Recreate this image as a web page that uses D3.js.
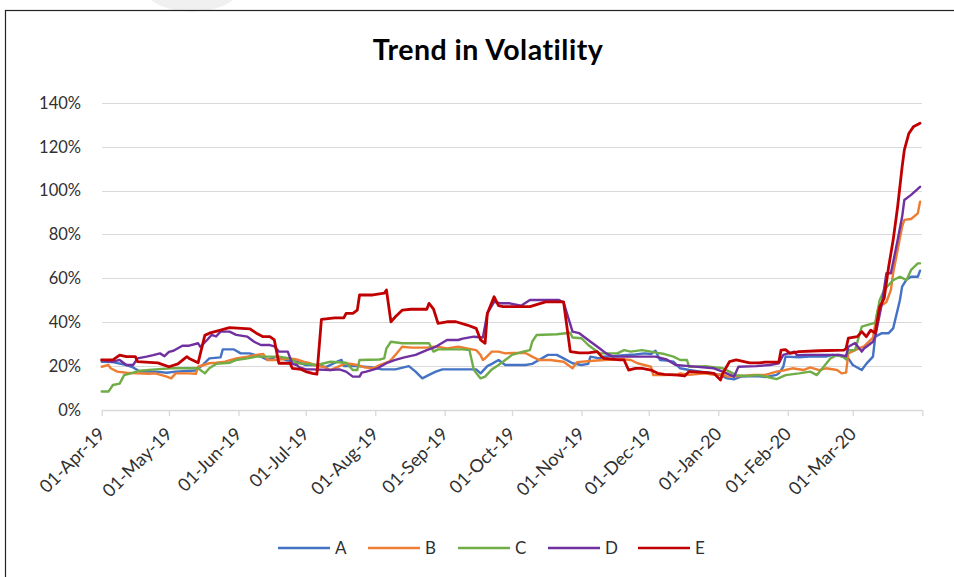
<!DOCTYPE html>
<meta charset="utf-8">
<head>
<title>Trend in Volatility</title>
<style>
body { margin: 0; background: #fff; }
svg { font-family: Lato, "Open Sans", sans-serif; }
.grid line { stroke: #d9d9d9; stroke-width: 1; shape-rendering: crispEdges; }
.xaxis path, .xaxis line { stroke: #d9d9d9; stroke-width: 1.3; }
.tick-label { fill: #303030; }
.series { fill: none; stroke-linejoin: round; stroke-linecap: round; }
</style>
</head>
<body>
<script src="https://cdnjs.cloudflare.com/ajax/libs/d3/7.8.5/d3.min.js"></script>
<script>

// Volatility, in percent
var A = [["2019-04-01",22],["2019-04-06",21.8],["2019-04-12",20.5],["2019-04-15",19.4],["2019-04-18",17.5],["2019-04-25",17.5],["2019-04-30",17],["2019-05-04",17.5],["2019-05-13",18],["2019-05-16",20.5],["2019-05-19",23.5],["2019-05-24",24],["2019-05-25",27.6],["2019-05-30",27.6],["2019-06-02",25.8],["2019-06-06",25.8],["2019-06-11",24.3],["2019-06-14",22.8],["2019-06-18",24.3],["2019-06-22",22.8],["2019-06-27",22],["2019-07-01",20.5],["2019-07-06",20.5],["2019-07-10",19.5],["2019-07-15",22],["2019-07-17",22.8],["2019-07-18",20],["2019-07-24",20],["2019-07-30",19.5],["2019-08-04",18.5],["2019-08-10",18.5],["2019-08-16",20],["2019-08-19",17.5],["2019-08-22",14.4],["2019-08-25",16],["2019-08-28",17.5],["2019-08-31",18.5],["2019-09-15",18.5],["2019-09-17",16.7],["2019-09-20",20],["2019-09-22",21],["2019-09-25",22.8],["2019-09-28",20.5],["2019-10-07",20.5],["2019-10-10",21],["2019-10-13",22.8],["2019-10-17",25.1],["2019-10-21",25.1],["2019-10-24",23.5],["2019-10-28",21.3],["2019-11-01",20.5],["2019-11-04",21],["2019-11-05",24.3],["2019-11-09",23.5],["2019-11-11",24.3],["2019-11-14",24.5],["2019-11-20",25],["2019-11-25",25.3],["2019-11-29",25.8],["2019-12-02",25.5],["2019-12-04",27],["2019-12-06",22.8],["2019-12-09",22.5],["2019-12-12",22],["2019-12-15",19],["2019-12-19",18.2],["2019-12-24",17.5],["2019-12-28",17],["2020-01-02",15.9],["2020-01-05",14.4],["2020-01-08",14],["2020-01-11",15.2],["2020-01-18",15.5],["2020-01-22",15],["2020-01-27",16],["2020-01-28",16.7],["2020-01-30",19.7],["2020-01-31",24.3],["2020-02-06",24],["2020-02-12",24.5],["2020-02-18",24.3],["2020-02-21",25.1],["2020-02-26",24.3],["2020-02-28",23.5],["2020-03-01",20.5],["2020-03-05",18.2],["2020-03-07",21],["2020-03-10",24.3],["2020-03-11",33.4],["2020-03-14",35],["2020-03-17",35],["2020-03-19",37.2],["2020-03-22",50],["2020-03-23",56.2],["2020-03-25",59.5],["2020-03-27",60.7],["2020-03-30",60.7],["2020-03-31",63.5]];

var B = [["2019-04-01",19.7],["2019-04-04",20.5],["2019-04-05",19],["2019-04-08",17.5],["2019-04-12",17],["2019-04-17",16.7],["2019-04-22",16.5],["2019-04-25",16.7],["2019-04-30",15.2],["2019-05-02",14.4],["2019-05-04",16.7],["2019-05-10",16.7],["2019-05-13",16.5],["2019-05-14",19.7],["2019-05-19",21.3],["2019-05-22",21.5],["2019-05-26",22],["2019-05-31",23.5],["2019-06-05",24.3],["2019-06-09",25.1],["2019-06-12",25.5],["2019-06-14",22.8],["2019-06-18",22.8],["2019-06-24",23.5],["2019-06-27",23],["2019-06-30",22],["2019-07-03",21.3],["2019-07-06",20],["2019-07-09",19.7],["2019-07-12",18.2],["2019-07-16",20],["2019-07-19",21.3],["2019-07-24",20.5],["2019-07-27",19.5],["2019-07-31",19],["2019-08-03",20.5],["2019-08-07",22],["2019-08-08",22.8],["2019-08-10",25.1],["2019-08-13",28.8],["2019-08-17",28.4],["2019-08-24",28.4],["2019-08-28",29],["2019-09-02",28],["2019-09-07",28.8],["2019-09-11",28],["2019-09-15",27.3],["2019-09-17",25],["2019-09-18",22.8],["2019-09-19",23.5],["2019-09-22",26.6],["2019-09-25",26.6],["2019-09-28",25.8],["2019-10-01",26],["2019-10-07",26],["2019-10-10",24.3],["2019-10-13",22.8],["2019-10-18",22.8],["2019-10-24",22],["2019-10-28",19],["2019-10-30",21.8],["2019-11-05",22.3],["2019-11-11",22.8],["2019-11-19",23.1],["2019-11-23",22.8],["2019-11-26",21.3],["2019-11-29",20.5],["2019-12-02",19.7],["2019-12-03",15.9],["2019-12-08",15.9],["2019-12-14",16.2],["2019-12-15",16.7],["2019-12-19",16],["2019-12-26",16.7],["2019-12-30",16],["2020-01-03",16.3],["2020-01-05",15.2],["2020-01-11",15.5],["2020-01-17",16],["2020-01-22",16],["2020-01-27",17.5],["2020-01-30",18],["2020-02-03",19],["2020-02-08",18.2],["2020-02-11",19.4],["2020-02-15",18.2],["2020-02-18",19],["2020-02-23",18.2],["2020-02-25",16.7],["2020-02-27",17],["2020-02-28",25.8],["2020-03-02",27.3],["2020-03-06",29],["2020-03-10",33],["2020-03-12",45],["2020-03-13",47],["2020-03-16",49.2],["2020-03-18",54.7],["2020-03-19",62.3],["2020-03-23",83.5],["2020-03-24",86.6],["2020-03-27",87],["2020-03-30",89.6],["2020-03-31",94.9]];

var C = [["2019-04-01",8.4],["2019-04-04",8.4],["2019-04-06",11.4],["2019-04-09",12],["2019-04-11",15.9],["2019-04-14",16.7],["2019-04-18",17.9],["2019-04-25",18.5],["2019-05-02",19],["2019-05-14",19],["2019-05-17",16.7],["2019-05-19",19],["2019-05-22",21],["2019-05-28",21.5],["2019-05-31",22.8],["2019-06-05",23.5],["2019-06-09",24.3],["2019-06-19",24.3],["2019-06-24",23.5],["2019-06-27",21.3],["2019-07-01",21],["2019-07-06",20.5],["2019-07-12",22],["2019-07-19",21.5],["2019-07-22",18.2],["2019-07-24",18.2],["2019-07-25",22.8],["2019-08-03",23],["2019-08-05",23.5],["2019-08-06",28.1],["2019-08-08",31.1],["2019-08-13",30.4],["2019-08-25",30.4],["2019-08-27",26.6],["2019-08-29",27.6],["2019-09-09",27.6],["2019-09-12",27.3],["2019-09-14",18.2],["2019-09-17",14.4],["2019-09-19",15.2],["2019-09-22",18.5],["2019-09-25",20.5],["2019-09-28",22.8],["2019-10-01",25.1],["2019-10-06",26.6],["2019-10-09",27.3],["2019-10-10",31.1],["2019-10-12",34.2],["2019-10-21",34.5],["2019-10-27",35.2],["2019-10-28",33],["2019-11-01",32.7],["2019-11-04",29.6],["2019-11-07",27.3],["2019-11-09",25.8],["2019-11-17",25.8],["2019-11-20",27.3],["2019-11-23",26.6],["2019-11-28",27.3],["2019-12-02",26.6],["2019-12-05",26],["2019-12-08",25.5],["2019-12-12",24.3],["2019-12-15",22.8],["2019-12-18",22.8],["2019-12-19",19.7],["2019-12-27",19.9],["2020-01-03",19],["2020-01-06",17.5],["2020-01-09",15.9],["2020-01-13",15.5],["2020-01-19",15.9],["2020-01-24",14.8],["2020-01-27",14.1],["2020-01-31",15.9],["2020-02-06",16.7],["2020-02-11",17.5],["2020-02-14",15.9],["2020-02-17",19.7],["2020-02-20",23.5],["2020-02-23",25.1],["2020-02-26",24],["2020-02-27",23],["2020-02-28",27.3],["2020-03-02",27.3],["2020-03-05",38],["2020-03-10",39.5],["2020-03-11",39.5],["2020-03-13",50.1],["2020-03-15",54.7],["2020-03-19",59.2],["2020-03-22",60.7],["2020-03-25",59.2],["2020-03-27",63.8],["2020-03-30",66.8],["2020-03-31",66.8]];

var D = [["2019-04-01",22.8],["2019-04-06",22],["2019-04-09",22.8],["2019-04-12",20.5],["2019-04-15",20.5],["2019-04-17",23.5],["2019-04-21",24.3],["2019-04-24",25],["2019-04-27",25.8],["2019-04-29",24.5],["2019-05-01",26.5],["2019-05-03",27],["2019-05-07",29.3],["2019-05-10",29.3],["2019-05-14",30.4],["2019-05-15",28.8],["2019-05-18",31.9],["2019-05-20",34.2],["2019-05-22",33.5],["2019-05-24",35.7],["2019-05-28",35.7],["2019-05-31",34.2],["2019-06-05",33.4],["2019-06-08",31.1],["2019-06-11",29.6],["2019-06-15",29.6],["2019-06-17",29],["2019-06-19",26.6],["2019-06-23",26.6],["2019-06-25",21],["2019-06-27",20.5],["2019-06-28",19.5],["2019-07-01",18.5],["2019-07-04",18.5],["2019-07-12",18.2],["2019-07-16",18.5],["2019-07-19",17.5],["2019-07-22",15.2],["2019-07-25",15.2],["2019-07-26",17],["2019-07-28",17.5],["2019-08-02",19],["2019-08-06",21.3],["2019-08-10",22.8],["2019-08-14",24],["2019-08-19",25.1],["2019-08-24",27.3],["2019-08-28",28.8],["2019-09-02",31.9],["2019-09-07",31.9],["2019-09-09",32.5],["2019-09-14",33.4],["2019-09-18",33],["2019-09-20",44],["2019-09-23",49.3],["2019-09-26",48.6],["2019-09-30",48.6],["2019-10-05",47.5],["2019-10-09",50.1],["2019-10-22",50.1],["2019-10-24",49],["2019-10-28",35.7],["2019-10-31",35],["2019-11-04",31.9],["2019-11-09",28.1],["2019-11-12",25.8],["2019-11-15",24.3],["2019-11-27",24.3],["2019-12-04",24.3],["2019-12-09",23],["2019-12-13",20.5],["2019-12-19",20],["2019-12-30",19],["2020-01-03",17.5],["2020-01-08",15.2],["2020-01-10",19.7],["2020-01-18",20],["2020-01-24",20.5],["2020-01-28",21.3],["2020-01-30",25.1],["2020-02-04",26.6],["2020-02-05",25],["2020-02-09",25.1],["2020-02-24",25.1],["2020-02-27",24.5],["2020-02-28",28.8],["2020-03-02",30.5],["2020-03-05",26.6],["2020-03-06",28],["2020-03-10",31.1],["2020-03-11",33.4],["2020-03-14",48.6],["2020-03-16",62.3],["2020-03-18",62.3],["2020-03-21",77.4],["2020-03-23",88],["2020-03-24",95.7],["2020-03-27",98],["2020-03-31",101.7]];

var E = [["2019-04-01",22.8],["2019-04-06",22.8],["2019-04-09",25],["2019-04-12",24.3],["2019-04-16",24.3],["2019-04-17",22],["2019-04-26",21.5],["2019-05-01",19.7],["2019-05-05",21],["2019-05-09",24.3],["2019-05-10",23.5],["2019-05-14",21.5],["2019-05-17",34],["2019-05-19",35],["2019-05-24",36.4],["2019-05-28",37.5],["2019-06-06",37],["2019-06-09",35],["2019-06-12",33.4],["2019-06-15",33.4],["2019-06-17",31.9],["2019-06-19",21.3],["2019-06-24",21.3],["2019-06-25",19],["2019-06-29",18.5],["2019-07-01",17.5],["2019-07-04",16.7],["2019-07-06",16.3],["2019-07-08",41.3],["2019-07-14",42],["2019-07-18",42],["2019-07-19",44],["2019-07-22",44],["2019-07-24",45.5],["2019-07-25",52.4],["2019-07-31",52.4],["2019-08-05",53.2],["2019-08-06",54.7],["2019-08-08",40.2],["2019-08-10",42.5],["2019-08-13",45.5],["2019-08-17",45.9],["2019-08-24",45.9],["2019-08-25",48.6],["2019-08-27",46],["2019-08-29",39.5],["2019-09-02",40.2],["2019-09-06",40.2],["2019-09-11",38.7],["2019-09-15",37.2],["2019-09-17",31.9],["2019-09-19",30.4],["2019-09-20",44],["2019-09-23",51.6],["2019-09-25",47.5],["2019-09-27",47.1],["2019-10-09",47.1],["2019-10-16",49.3],["2019-10-24",49.3],["2019-10-27",26.6],["2019-10-31",26],["2019-11-04",26],["2019-11-08",26.6],["2019-11-10",24.3],["2019-11-11",23.5],["2019-11-18",22.8],["2019-11-20",22.8],["2019-11-22",18.2],["2019-11-25",19],["2019-11-28",19],["2019-12-02",18.2],["2019-12-05",16.7],["2019-12-08",16.2],["2019-12-14",15.9],["2019-12-17",15.5],["2019-12-19",17.5],["2019-12-27",17],["2019-12-30",16.7],["2020-01-02",13.7],["2020-01-03",16.7],["2020-01-06",22],["2020-01-09",22.8],["2020-01-15",21.5],["2020-01-19",21.5],["2020-01-22",21.8],["2020-01-28",21.8],["2020-01-29",27.3],["2020-01-31",27.5],["2020-02-02",25.8],["2020-02-06",26.6],["2020-02-15",27],["2020-02-26",27.3],["2020-02-27",28],["2020-02-28",32.7],["2020-03-03",33.4],["2020-03-05",35.7],["2020-03-07",33.4],["2020-03-09",36.4],["2020-03-11",35],["2020-03-13",47],["2020-03-15",50.9],["2020-03-17",65.3],["2020-03-19",77.4],["2020-03-21",92.6],["2020-03-23",110.8],["2020-03-24",118.5],["2020-03-26",126],["2020-03-28",129],["2020-03-31",130.6]];

var seriesNames = ["A", "B", "C", "D", "E"];
var seriesData = [A, B, C, D, E];
var colors = ["#4472c4", "#ed7d31", "#70ad47", "#7030a0", "#c00000"];

var yTicks = [0, 20, 40, 60, 80, 100, 120, 140];
var monthTicks = ["2019-04-01","2019-05-01","2019-06-01","2019-07-01","2019-08-01","2019-09-01",
                  "2019-10-01","2019-11-01","2019-12-01","2020-01-01","2020-02-01","2020-03-01"];
var axisStart = "2019-04-01", axisEnd = "2020-04-01";

var width = 954, height = 577;
var plot = {left: 101.7, right: 922.3, top: 102.7, bottom: 410};

var parse = d3.timeParse("%Y-%m-%d");
var fmt = d3.timeFormat("%d-%b-%y");

var svg = d3.select("body").append("svg")
    .attr("width", width)
    .attr("height", height);

// faint watermark at top and the chart frame
svg.append("ellipse")
    .attr("cx", 192).attr("cy", -28)
    .attr("rx", 58).attr("ry", 40)
    .style("fill", "#f0f0f0");

svg.append("rect")
    .attr("x", 5.5).attr("y", 10.5)
    .attr("width", 980).attr("height", 600)
    .style("fill", "none")
    .style("stroke", "#222")
    .style("stroke-width", 1.2);

var x = d3.scaleTime()
    .domain([parse(axisStart), parse(axisEnd)])
    .range([plot.left, plot.right]);

var y = d3.scaleLinear()
    .domain([0, 140])
    .range([plot.bottom, plot.top]);

// Title
svg.append("text")
    .attr("x", 488)
    .attr("y", 60)
    .attr("text-anchor", "middle")
    .style("font-weight", "bold")
    .style("font-size", "28.5px")
    .style("letter-spacing", "0.5px")
    .style("fill", "#000")
    .text("Trend in Volatility");

// Gridlines
svg.append("g")
    .attr("class", "grid")
    .selectAll("line")
    .data(yTicks.slice(1))
    .enter().append("line")
    .attr("x1", plot.left)
    .attr("x2", plot.right)
    .attr("y1", function(d) { return Math.round(y(d)) + 0.5; })
    .attr("y2", function(d) { return Math.round(y(d)) + 0.5; });

// Y labels
svg.append("g")
    .selectAll("text")
    .data(yTicks)
    .enter().append("text")
    .attr("class", "tick-label")
    .attr("x", 81)
    .attr("y", function(d) { return y(d); })
    .attr("dy", "0.36em")
    .attr("text-anchor", "end")
    .style("font-size", "16.5px")
    .text(function(d) { return d + "%"; });

// X axis
var xAxis = d3.axisBottom(x)
    .tickValues(monthTicks.map(parse).concat([parse(axisEnd)]))
    .tickSize(6)
    .tickSizeOuter(0)
    .tickFormat(function(d) { return +d === +parse(axisEnd) ? "" : fmt(d); });

var gx = svg.append("g")
    .attr("class", "xaxis")
    .attr("transform", "translate(0," + plot.bottom + ")")
    .call(xAxis);

gx.selectAll("text")
    .attr("class", "tick-label")
    .style("font-family", "Lato, sans-serif")
    .style("font-size", "18px")
    .attr("text-anchor", "end")
    .attr("dy", null)
    .attr("y", 0)
    .attr("x", 0)
    .attr("transform", "translate(4,25) rotate(-45)");

// Lines
var line = d3.line()
    .x(function(d) { return x(parse(d[0])); })
    .y(function(d) { return y(d[1]); });

svg.append("g")
    .selectAll("path")
    .data(seriesData)
    .enter().append("path")
    .attr("class", "series")
    .attr("d", line)
    .style("stroke", function(d, i) { return colors[i]; })
    .style("stroke-width", function(d, i) { return i == 4 ? 2.8 : 2.4; });

// Legend
var legend = svg.append("g")
    .selectAll("g")
    .data(seriesNames)
    .enter().append("g")
    .attr("transform", function(d, i) { return "translate(" + (278 + i * 90) + ",548)"; });

legend.append("line")
    .attr("x1", 0).attr("x2", 52)
    .attr("y1", 0).attr("y2", 0)
    .style("stroke", function(d, i) { return colors[i]; })
    .style("stroke-width", 2.4);

legend.append("text")
    .attr("class", "tick-label")
    .attr("x", 57)
    .attr("dy", "0.36em")
    .style("font-size", "17px")
    .text(function(d) { return d; });

</script>
</body>
